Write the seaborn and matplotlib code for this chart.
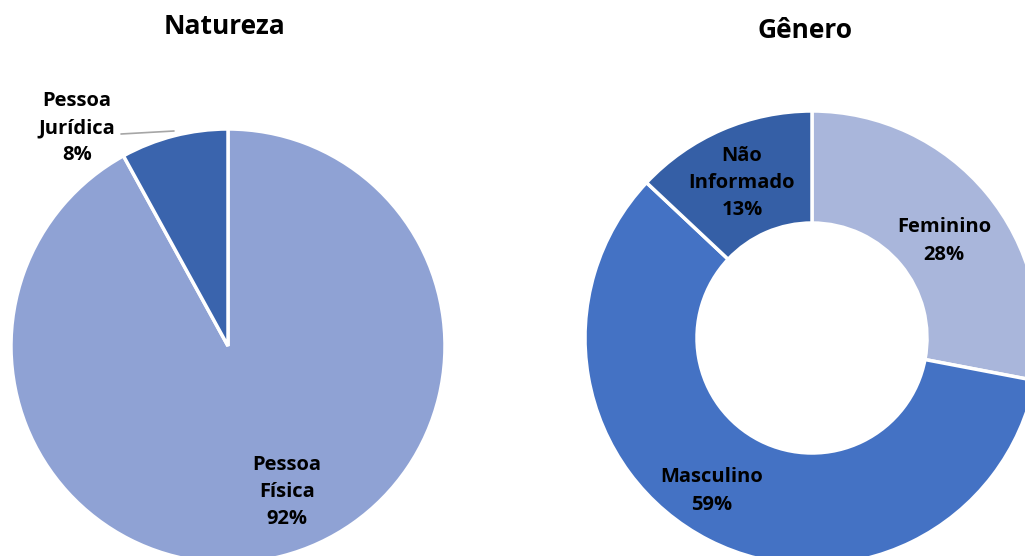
import matplotlib
matplotlib.use("Agg")
import matplotlib.pyplot as plt
import seaborn as sns

# Natureza (pessoa física / jurídica)
natureza_labels = ["Pessoa\nFísica", "Pessoa\nJurídica"]
natureza_values = [92, 8]
natureza_colors = ["#8FA2D4", "#3A64AD"]

# Gênero
genero_labels = ["Feminino", "Masculino", "Não\nInformado"]
genero_values = [28, 59, 13]
genero_colors = ["#A9B6DB", "#4472C4", "#355FA6"]

sns.set_theme(style="white")
plt.rcParams["font.family"] = ["Open Sans", "DejaVu Sans"]

W, H = 1025, 556
fig = plt.figure(figsize=(W / 100, H / 100), dpi=100)
ax = fig.add_axes([0, 0, 1, 1])

def y(py):
    return H - py

wedge_style = dict(edgecolor="white", linewidth=2.5)

# Left: full pie
ax.pie(natureza_values, colors=natureza_colors, startangle=90, counterclock=False,
       center=(228, y(346)), radius=217, wedgeprops=wedge_style, frame=True)

# Right: donut
ax.pie(genero_values, colors=genero_colors, startangle=90, counterclock=False,
       center=(812, y(338)), radius=227,
       wedgeprops=dict(width=112, **wedge_style), frame=True)

ax.set_xlim(0, W)
ax.set_ylim(0, H)
ax.set_aspect("equal")
ax.axis("off")

lab = dict(ha="center", va="center", fontsize=14.5, fontweight="bold",
           color="black", linespacing=1.48)

ax.text(287, y(492), f"{natureza_labels[0]}\n{natureza_values[0]}%", **lab)
ax.text(77, y(128), f"{natureza_labels[1]}\n{natureza_values[1]}%", **lab)
ax.plot([121, 174], [y(134), y(131)], color="#A6A6A6", linewidth=1.2)

ax.text(944, y(241), f"{genero_labels[0]}\n{genero_values[0]}%", **lab)
ax.text(712, y(491), f"{genero_labels[1]}\n{genero_values[1]}%", **lab)
ax.text(742, y(183), f"{genero_labels[2]}\n{genero_values[2]}%", **lab)

title = dict(ha="center", va="center", fontsize=19, fontweight="bold", color="black")
ax.text(224, y(27), "Natureza", **title)
ax.text(805, y(30), "Gênero", **title)

fig.savefig("out.png", dpi=100, facecolor="white")
